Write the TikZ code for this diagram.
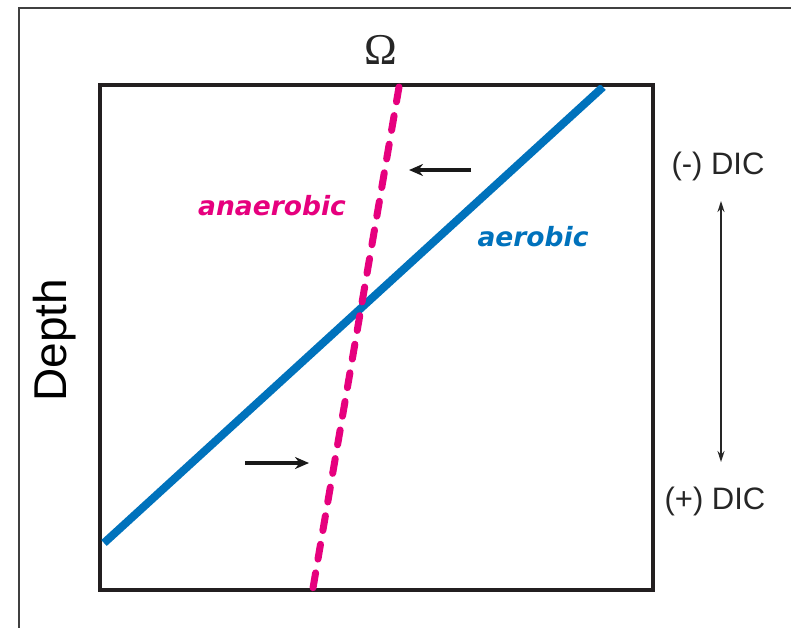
\documentclass[tikz,border=0pt]{standalone}
\usepackage{fontspec}
\setmainfont{Liberation Sans}
\newfontfamily\labelfont{DejaVu Sans}
\newfontfamily\omegafont{Liberation Serif}
\usetikzlibrary{arrows.meta}
\definecolor{pinkline}{RGB}{230,0,126}
\definecolor{blueline}{RGB}{0,114,188}
\definecolor{frameline}{RGB}{35,31,32}
\tikzset{
  framebox/.style={draw=frameline, line width=4pt},
  outerbox/.style={draw=black!75, line width=1.6pt},
  aerobicline/.style={draw=blueline, line width=8pt},
  anaerobicline/.style={draw=pinkline, line width=7pt, line cap=round, dash pattern=on 15pt off 14pt},
  smallarrow/.style={draw=black!90, line width=3.5pt, -{Stealth[length=14pt,width=12pt]}},
  dicarrow/.style={draw=black!85, line width=1.5pt, {Stealth[length=11pt,width=7pt]}-{Stealth[length=11pt,width=7pt]}},
  dictext/.style={font=\fontsize{31}{34}\selectfont, text=black!85, inner sep=0pt},
  curvelabel/.style={font=\labelfont\fontsize{26.5}{30}\selectfont\bfseries\itshape, inner sep=0pt}
}
\begin{document}
\begin{tikzpicture}[x=1pt,y=-1pt]
\useasboundingbox (0,0) rectangle (791,627);
\fill[white] (0,0) rectangle (791,627);
\begin{scope}
\clip (0,0) rectangle (791,627);
\draw[outerbox] (19,8) rectangle (820,660);
\end{scope}
% inner box
\draw[framebox] (100,85) rectangle (653,590);
% line end points
\coordinate (bA) at (104,543);
\coordinate (bB) at (603,87);
\coordinate (pA) at (399,87);
\coordinate (pB) at (313,588);
\begin{scope}
\clip (100,85) rectangle (653,590);
\draw[aerobicline] (bA) -- (bB);
\end{scope}
\draw[anaerobicline] (pA) -- (pB);
% labels
\node[inner sep=0pt, font=\omegafont\fontsize{44}{48}\selectfont, text=black!85] (omega) at (381,50) {Ω};
\node[inner sep=0pt, rotate=90, font=\fontsize{46}{50}\selectfont] (depth) at (55,340) {Depth};
\node[curvelabel, text=pinkline] (anaer) at (272,206) {anaerobic};
\node[curvelabel, text=blueline] (aer) at (533,237) {aerobic};
\node[dictext] (dicneg) at (718,166) {(-) DIC};
\node[dictext] (dicpos) at (715,501) {(+) DIC};
% arrows
\coordinate (a1s) at (471,170);
\coordinate (a1e) at (409,170);
\draw[smallarrow] (a1s) -- (a1e);
\coordinate (a2s) at (245,463);
\coordinate (a2e) at (309,463);
\draw[smallarrow] (a2s) -- (a2e);
\coordinate (d1) at (721,201);
\coordinate (d2) at (721,462);
\draw[dicarrow] (d1) -- (d2);
\end{tikzpicture}
\end{document}
